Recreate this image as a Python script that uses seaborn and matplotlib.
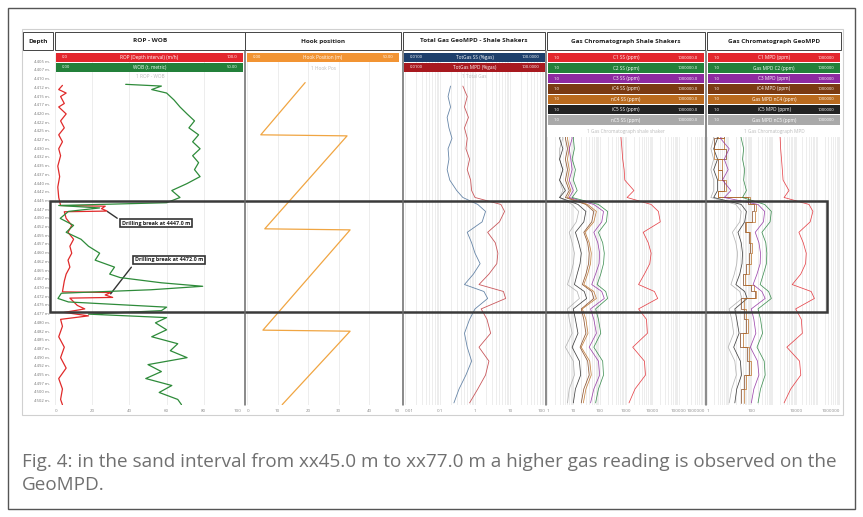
import numpy as np
import matplotlib.pyplot as plt
import matplotlib.transforms as mtransforms
from matplotlib.patches import Rectangle
from matplotlib.ticker import LogLocator, NullFormatter
import seaborn as sns

W, H = 863, 517
DEPTH_TOP, DEPTH_BOT = 4402.5, 4503.6

depth_labels = np.arange(4405, 4503, 2.5)

rop_depth = [4411.8, 4413, 4414, 4415, 4417, 4418, 4420, 4422, 4424, 4426, 4428, 4430, 4432, 4435,
             4438, 4441, 4444, 4446.3, 4446.5, 4447.2, 4447.9, 4448.1, 4450, 4452, 4454, 4456, 4458,
             4460, 4462, 4464, 4466, 4468, 4471.1, 4471.3, 4472, 4472.7, 4472.9, 4475, 4476, 4477,
             4478, 4479, 4481, 4484, 4487, 4490, 4493, 4496, 4499, 4502, 4503.5]
rop_vals = [4, 2, 6, 3, 5, 2, 6, 3, 5, 2, 4, 2, 3, 1.5, 2.5, 1.5, 2, 3, 27, 25, 28, 5, 6, 9, 7, 10,
            8, 9, 7, 8, 6, 5, 4, 30, 27, 31, 8, 12, 16, 5, 18, 3, 4, 2, 5, 3, 6, 2, 4, 3, 4]

wob_depth = [4411.5, 4412, 4413, 4414, 4416, 4418, 4420, 4422, 4424, 4426, 4428, 4430, 4432, 4434,
             4436, 4438, 4440, 4442, 4444, 4445.5, 4446.3, 4447, 4448, 4450, 4452, 4454, 4456, 4458,
             4460, 4462, 4464, 4466, 4467, 4468.5, 4469.5, 4470.5, 4471.5, 4473, 4474, 4475.5,
             4476.5, 4477.5, 4478.5, 4480, 4482, 4484, 4486, 4488, 4490, 4492, 4494, 4496, 4498,
             4500, 4502, 4503.5]
wob_vals = [19, 28.6, 26, 30, 32, 33.6, 35.5, 37.5, 36, 38.6, 37, 39, 37, 38.6, 37.5, 39, 35.5, 31.4,
            33.6, 30, 1, 12, 3.6, 1.4, 5, 3, 7, 9, 12, 10.8, 16, 14.7, 17.5, 28.6, 39.7, 25.8, 1.7,
            0.8, 3.6, 30, 28.6, 9, 30, 27, 30, 26, 33, 31, 35.5, 25, 28.6, 24.4, 31.4, 28, 33, 34]

hook_depth = [4411.0, 4426.0, 4426.3, 4453.0, 4453.3, 4482.1, 4482.4, 4503.5]
hook_vals = [19.0, 4.5, 32.7, 5.8, 33.7, 5.2, 33.7, 11.5]

gas_depth = [4412, 4415, 4418, 4421, 4424, 4427, 4430, 4433, 4436, 4439, 4442, 4444, 4446, 4448,
             4451, 4454, 4457, 4460, 4463, 4466, 4469, 4471, 4473, 4476, 4479, 4483, 4487, 4491,
             4495, 4499, 4503]

totgas_ss = [0.20, 0.17, 0.20, 0.16, 0.18, 0.22, 0.17, 0.18, 0.16, 0.19, 0.30, 0.45, 1.2, 2.0, 1.6,
             0.6, 0.8, 1.0, 1.4, 0.9, 0.5, 1.8, 2.3, 1.0, 0.7, 0.5, 0.6, 0.8, 0.55, 0.35, 0.25]
totgas_mpd = [0.45, 0.60, 0.50, 0.65, 0.50, 0.60, 0.55, 0.70, 0.60, 0.75, 0.80, 1.0, 5.5, 7.0, 5.0,
              2.3, 3.8, 4.5, 4.2, 2.5, 1.3, 6.5, 7.5, 1.5, 2.2, 2.8, 1.3, 2.5, 2.0, 1.2, 0.7]

c1_ss = [450, 500, 480, 550, 600, 650, 700, 750, 850, 900, 2000, 1100, 9000, 17000, 20000, 4500,
         7000, 9000, 8000, 5000, 3000, 12000, 16000, 3000, 6000, 6500, 1800, 5000, 5500, 2200, 1300]
c2_ss = [12, 10, 11, 9, 12, 10, 11, 9, 12, 10, 14, 9, 90, 200, 180, 90, 130, 150, 140, 110, 80,
         170, 200, 70, 90, 110, 60, 130, 140, 90, 70]
c3_ss = [8, 7, 9, 7, 8, 9, 7, 8, 9, 7, 10, 7, 60, 140, 120, 60, 85, 100, 95, 70, 50, 120, 150, 45,
         60, 75, 40, 90, 100, 60, 45]
ic4_ss = [6, 5, 6, 5, 6, 5, 6, 5, 6, 5, 7, 5, 30, 60, 50, 25, 35, 40, 38, 30, 22, 50, 60, 20, 25,
          30, 18, 35, 40, 25, 20]
nc4_ss = [7, 6, 7, 6, 7, 6, 7, 6, 7, 6, 8, 6, 35, 75, 60, 28, 40, 48, 45, 35, 25, 60, 75, 22, 30,
          36, 20, 42, 48, 30, 24]
ic5_ss = [4, 3, 4, 3, 4, 3, 4, 3, 4, 3, 5, 3, 15, 30, 25, 12, 16, 20, 18, 14, 11, 26, 32, 10, 12,
          15, 9, 17, 19, 12, 10]
nc5_ss = [3, 3, 4, 3, 3, 4, 3, 3, 4, 3, 4, 3, 9, 16, 13, 7, 9, 11, 10, 8, 6, 14, 17, 6, 7, 9, 5,
          10, 11, 7, 6]

c1_mpd = [1200, 1300, 1400, 1600, 1800, 2000, 2100, 2300, 2500, 2700, 5000, 3000, 40000, 60000,
          45000, 14000, 22000, 30000, 28000, 17000, 7000, 50000, 70000, 10000, 18000, 20000, 4000,
          15000, 17000, 6000, 3000]
c2_mpd = [25, 30, 35, 40, 30, 35, 45, 40, 50, 45, 60, 40, 400, 800, 700, 300, 450, 500, 480, 350,
          250, 600, 800, 200, 260, 320, 180, 380, 420, 260, 200]
c3_mpd = [8, 4, 10, 5, 9, 4, 10, 6, 9, 5, 12, 6, 200, 400, 350, 150, 220, 260, 250, 180, 120, 300,
          420, 100, 130, 160, 90, 190, 220, 130, 100]
ic4_mpd = [3, 6, 2, 7, 3, 6, 2, 7, 3, 5, 6, 3, 70, 130, 110, 50, 75, 85, 80, 60, 40, 100, 140, 35,
           45, 55, 30, 65, 75, 45, 35]
nc4_mpd = [5, 2, 6, 2, 5, 3, 6, 2, 5, 3, 7, 3, 90, 160, 140, 60, 90, 110, 100, 75, 50, 130, 170,
           45, 55, 70, 40, 80, 95, 55, 45]
ic5_mpd = [2, 3, 2, 3, 2, 3, 2, 3, 2, 3, 3, 2, 35, 60, 50, 25, 35, 40, 38, 30, 20, 50, 65, 18, 22,
           28, 16, 32, 36, 22, 18]
nc5_mpd = [1.5, 2, 1.5, 2, 1.5, 2, 1.5, 2, 1.5, 2, 2, 1.5, 20, 35, 30, 14, 20, 24, 22, 17, 12, 30,
           38, 10, 13, 16, 9, 18, 21, 13, 10]

comp_colors = ['#e3262d', '#23803a', '#8e2aa0', '#7a3a12', '#b96a1e', '#222222', '#a9a9a9']
ss_names = ['C1 SS (ppm)', 'C2 SS (ppm)', 'C3 SS (ppm)', 'iC4 SS (ppm)', 'nC4 SS (ppm)',
            'iC5 SS (ppm)', 'nC5 SS (ppm)']
mpd_names = ['C1 MPD (ppm)', 'Gas MPD C2 (ppm)', 'C3 MPD (ppm)', 'iC4 MPD (ppm)',
             'Gas MPD nC4 (ppm)', 'iC5 MPD (ppm)', 'Gas MPD nC5 (ppm)']

caption = ["Fig. 4: in the sand interval from xx45.0 m to xx77.0 m a higher gas reading is observed on the",
           "GeoMPD."]

# ---- figure ----
sns.set_theme(style='white')
plt.rcParams['font.family'] = ['Open Sans', 'DejaVu Sans']

fig = plt.figure(figsize=(W / 100, H / 100), dpi=100)
fig.patch.set_facecolor('white')

TOP, BOT = 53, 405


def fig_rect(x0, y0, x1, y1):
    return [x0 / W, 1 - y1 / H, (x1 - x0) / W, (y1 - y0) / H]


def make_track(x0, x1, log=False):
    ax = fig.add_axes(fig_rect(x0, TOP, x1, BOT))
    ax.set_facecolor('none')
    if log:
        ax.set_xscale('log')
    return ax


def finish_track(ax, xlim, ticks, labels, log=False):
    ax.set_xlim(*xlim)
    ax.set_ylim(DEPTH_BOT, DEPTH_TOP)
    for s in ax.spines.values():
        s.set_visible(False)
    ax.set_yticks([])
    ax.set_xticks(ticks)
    ax.set_xticklabels(labels)
    ax.tick_params(axis='x', which='both', length=0, labelsize=3.2, colors='#8a8a8a', pad=3)
    tl = ax.get_xticklabels()
    tl[0].set_horizontalalignment('left')
    tl[-1].set_horizontalalignment('right')
    if log:
        ax.xaxis.set_minor_locator(LogLocator(base=10, subs=np.arange(2, 10), numticks=30))
        ax.xaxis.set_minor_formatter(NullFormatter())
    ax.grid(True, axis='x', which='both', color='#e6e6e6', lw=0.5)
    ax.set_xlabel('')
    ax.set_ylabel('')


def curve(ax, vals, depth, color, lw=0.6, alpha=1.0, **kw):
    sns.lineplot(x=vals, y=depth, ax=ax, sort=False, estimator=None, color=color,
                 lw=lw, alpha=alpha, legend=False, **kw)


# ROP - WOB
ax_rop = make_track(55, 241)
curve(ax_rop, rop_vals, rop_depth, '#e02a2a', lw=0.9)
finish_track(ax_rop, (0, 100), [0, 20, 40, 60, 80, 100], ['0', '20', '40', '60', '80', '100'])
ax_wob = ax_rop.twiny()
curve(ax_wob, wob_vals, wob_depth, '#2e8b3a', lw=0.9)
ax_wob.set_xlim(0, 50)
ax_wob.set_ylim(DEPTH_BOT, DEPTH_TOP)
ax_wob.axis('off')

# Hook position
ax_hook = make_track(247, 400)
curve(ax_hook, hook_vals, hook_depth, '#f0a542', lw=0.9)
finish_track(ax_hook, (0, 50), [0, 10, 20, 30, 40, 50], ['0', '10', '20', '30', '40', '50'])

# Total gas
ax_gas = make_track(405, 545, log=True)
curve(ax_gas, totgas_ss, gas_depth, '#6786a8', lw=0.6)
curve(ax_gas, totgas_mpd, gas_depth, '#c9585c', lw=0.6)
finish_track(ax_gas, (0.01, 100), [0.01, 0.1, 1, 10, 100], ['0.01', '0.1', '1', '10', '100'], log=True)

# Gas chromatograph shale shakers
ax_ss = make_track(547, 705, log=True)
for vals, col in zip([nc5_ss, ic5_ss, ic4_ss, nc4_ss, c3_ss, c2_ss, c1_ss],
                     [comp_colors[i] for i in (6, 5, 3, 4, 2, 1, 0)]):
    curve(ax_ss, vals, gas_depth, col, lw=0.55, alpha=0.85)
finish_track(ax_ss, (1, 1e6), [1, 10, 100, 1000, 10000, 100000, 1000000],
             ['1', '10', '100', '1000', '10000', '100000', '1000000'], log=True)

# Gas chromatograph GeoMPD
ax_mpd = make_track(707, 840, log=True)
for vals, col, step in zip([nc5_mpd, ic5_mpd, ic4_mpd, nc4_mpd, c3_mpd, c2_mpd, c1_mpd],
                           [comp_colors[i] for i in (6, 5, 3, 4, 2, 1, 0)],
                           [False, False, True, True, False, False, False]):
    if step:
        curve(ax_mpd, vals, gas_depth, col, lw=0.55, alpha=0.85, drawstyle='steps-post')
    else:
        curve(ax_mpd, vals, gas_depth, col, lw=0.55, alpha=0.85)
finish_track(ax_mpd, (1, 1e6), [1, 100, 10000, 1000000], ['1', '100', '10000', '1000000'], log=True)

# ---- overlay in pixel coordinates ----
ov = fig.add_axes([0, 0, 1, 1], zorder=10)
ov.set_xlim(0, W)
ov.set_ylim(H, 0)
ov.axis('off')
ov.patch.set_alpha(0)

# page frame and chart frame
ov.add_patch(Rectangle((8, 8), 847, 501, fill=False, ec='#555555', lw=1.0))
ov.add_patch(Rectangle((22, 29), 821, 386, fill=False, ec='#d0d0d0', lw=0.8))

# white cover behind legends of the chromatograph tracks
ov.add_patch(Rectangle((546, 51), 296, 86, fc='white', ec='none'))

# header cells
headers = [(23, 53, 'Depth'), (55, 245, 'ROP - WOB'), (245, 401, 'Hook position'),
           (403, 545, 'Total Gas GeoMPD - Shale Shakers'), (547, 705, 'Gas Chromatograph Shale Shakers'),
           (707, 841, 'Gas Chromatograph GeoMPD')]
for x0, x1, title in headers:
    ov.add_patch(Rectangle((x0, 32), x1 - x0, 18, fc='white', ec='#444444', lw=0.7))
    ov.text((x0 + x1) / 2, 41, title, ha='center', va='center', fontsize=4.6,
            fontweight='bold', color='#222222')

# track separators
for x in [245, 402.5, 546, 706]:
    ov.plot([x, x], [51, 405], color='#6a6a6a', lw=1.1)


def legend_bar(x0, x1, y0, color, left, mid, right, h=9):
    ov.add_patch(Rectangle((x0, y0), x1 - x0, h, fc=color, ec='none'))
    yc = y0 + h / 2
    ov.text(x0 + 6, yc, left, ha='left', va='center', fontsize=3.0, color='white')
    ov.text((x0 + x1) / 2, yc, mid, ha='center', va='center', fontsize=3.4, color='white')
    ov.text(x1 - 6, yc, right, ha='right', va='center', fontsize=3.0, color='white')


legend_bar(56, 243, 53, '#e3262d', '0.0', 'ROP (Depth interval) (m/h)', '100.0')
legend_bar(56, 243, 63, '#23803a', '0.00', 'WOB (t, metric)', '50.00')
ov.text(150, 77, '1 ROP - WOB', ha='center', va='center', fontsize=3.4, color='#bbbbbb')

legend_bar(247, 399, 53, '#f29433', '0.00', 'Hook Position (m)', '50.00')
ov.text(323, 68, '1 Hook Pos', ha='center', va='center', fontsize=3.4, color='#bbbbbb')

legend_bar(404, 545, 53, '#1d3f6b', '0.0100', 'TotGas SS (%gas)', '100.0000')
legend_bar(404, 545, 63, '#a8191f', '0.0100', 'TotGas MPD (%gas)', '100.0000')
ov.text(474, 77, '1 Total Gas', ha='center', va='center', fontsize=3.4, color='#bbbbbb')

for i, (col, name) in enumerate(zip(comp_colors, ss_names)):
    legend_bar(548, 704, 53 + 10.4 * i, col, '1.0', name, '1000000.0', h=9.4)
ov.text(626, 131, '1 Gas Chromatograph shale shaker', ha='center', va='center', fontsize=3.4,
        color='#bbbbbb')

for i, (col, name) in enumerate(zip(comp_colors, mpd_names)):
    legend_bar(708, 840, 53 + 10.4 * i, col, '1.0', name, '1000000', h=9.4)
ov.text(774, 131, '1 Gas Chromatograph MPD', ha='center', va='center', fontsize=3.4,
        color='#bbbbbb')

# depth labels
trans = mtransforms.blended_transform_factory(fig.transFigure, ax_rop.transData)
for d in depth_labels:
    ax_rop.text(50 / W, d, f'{int(d)} m.', transform=trans, ha='right', va='center',
                fontsize=3.1, color='#777777', clip_on=False)

# sand interval box
ov.add_patch(Rectangle((50 / W, 4445.0), 777 / W, 32.0, transform=trans, fill=False,
                       ec='#3a3a3a', lw=1.8))

# drilling break callouts
box = dict(boxstyle='square,pad=0.35', fc='white', ec='#333333', lw=1.2)
ax_rop.annotate('Drilling break at 4447.0 m', xy=(27, 4447.6), xycoords='data',
                xytext=(122, 223), textcoords=ov.transData, ha='left', va='center',
                fontsize=3.9, fontweight='bold', color='#222222', bbox=box, zorder=20,
                arrowprops=dict(arrowstyle='-', color='#333333', lw=1.0, relpos=(0, 0.8)))
ax_rop.annotate('Drilling break at 4472.0 m', xy=(29, 4472.3), xycoords='data',
                xytext=(135, 260), textcoords=ov.transData, ha='left', va='center',
                fontsize=3.9, fontweight='bold', color='#222222', bbox=box, zorder=20,
                arrowprops=dict(arrowstyle='-', color='#333333', lw=1.0, relpos=(0, 0)))

# caption
ov.text(22, 462, caption[0], ha='left', va='center', fontsize=13.6, color='#707070')
ov.text(22, 485, caption[1], ha='left', va='center', fontsize=13.6, color='#707070')

fig.savefig('out.png', dpi=100, facecolor='white')
